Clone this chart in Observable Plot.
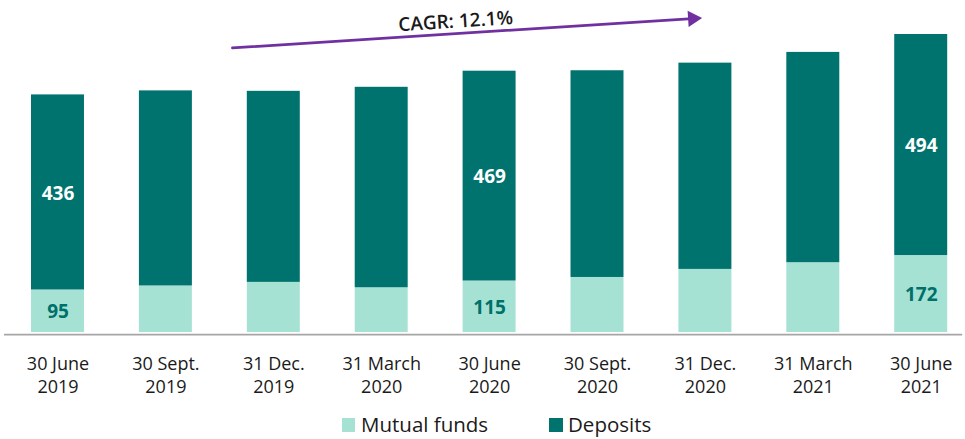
<!DOCTYPE html>
<html>
<head>
<meta charset="utf-8">
<script src="https://cdn.jsdelivr.net/npm/d3@7"></script>
<script src="https://cdn.jsdelivr.net/npm/@observablehq/plot@0.6"></script>
<style>
  html, body { margin: 0; padding: 0; background: #fff; overflow: hidden; }
  body { position: relative; width: 965px; height: 439px; font-family: "Open Sans", sans-serif; }
  #chart svg { display: block; }
  .legend { position: absolute; left: 0; top: 0; width: 965px; height: 439px; pointer-events: none; }
  .legend .sw { position: absolute; width: 13.5px; height: 13.5px; top: 418px; }
  .legend .lb { position: absolute; top: 414px; font-size: 20.5px; line-height: 21px; color: #1a1a1a; white-space: nowrap; }
</style>
</head>
<body>
<div id="chart"></div>
<div class="legend" id="legend"></div>
<script>
const categories = ["30 June\n2019", "30 Sept.\n2019", "31 Dec.\n2019", "31 March\n2020", "30 June\n2020", "30 Sept.\n2020", "31 Dec.\n2020", "31 March\n2021", "30 June\n2021"];
const mutualFunds = [95, 104, 112, 100, 115, 123, 141, 156, 172];
const deposits = [436, 436, 427, 448, 469, 462, 461, 470, 494];
const labelledPeriods = [0, 4, 8];
const seriesNames = ["Mutual funds", "Deposits"];
const seriesColors = ["#a6e2d4", "#00736f"];
const cagrLabel = "CAGR: 12.1%";
const cagrArrow = [{from: categories[1], to: categories[6], y1: 626, y2: 703}];
const cagrText = [{x: categories[4], y: 695, text: cagrLabel}];

const table = [];
categories.forEach((c, i) => {
  table.push({period: c, series: seriesNames[0], value: mutualFunds[i], show: labelledPeriods.includes(i)});
  table.push({period: c, series: seriesNames[1], value: deposits[i], show: labelledPeriods.includes(i)});
});

const chart = Plot.plot({
  width: 965,
  height: 410,
  marginTop: 0,
  marginBottom: 78,
  marginLeft: 31,
  marginRight: 17.8,
  style: {fontFamily: "Open Sans", fontSize: "18px", color: "#1a1a1a", background: "#fff", overflow: "visible"},
  x: {domain: categories, paddingInner: 0.509, paddingOuter: 0, round: false, axis: null, label: null},
  y: {domain: [0, 742], axis: null},
  color: {domain: seriesNames, range: seriesColors},
  marks: [
    Plot.barY(table, {x: "period", y: "value", z: "series", fill: "series"}),
    Plot.ruleY([0], {stroke: "#a6a6a6", strokeWidth: 1.75, dy: 2, insetLeft: -27, insetRight: -15}),
    Plot.text(table, Plot.stackY({x: "period", y: "value", z: "series",
      text: d => (d.show && d.series === seriesNames[1]) ? String(d.value) : null,
      fill: "#ffffff", fontWeight: 700, fontSize: 19, dy: 1})),
    Plot.text(table, Plot.stackY({x: "period", y: "value", z: "series",
      text: d => (d.show && d.series === seriesNames[0]) ? String(d.value) : null,
      fill: "#00706b", fontWeight: 700, fontSize: 19, dy: 1})),
    Plot.axisX({tickSize: 0, tickPadding: 21, fontSize: 18, lineHeight: 1.28, label: null, fill: "#1a1a1a"}),
    Plot.arrow(cagrArrow, {x1: "from", x2: "to", y1: "y1", y2: "y2", stroke: "#7030a0", strokeWidth: 2.75,
      headLength: 0, insetStart: 69.7, insetEnd: 10, dx: -3}),
    Plot.dot(cagrArrow, {x: "to", y: "y2", symbol: "triangle", r: 6, fill: "#7030a0", stroke: "none",
      rotate: 86.35, dx: -12.6, dy: 0.6}),
    Plot.text(cagrText, {x: "x", y: "y", text: "text", rotate: -3.65, dx: -34, fontSize: 19, fontWeight: 600, fill: "#1a1a1a"})
  ]
});
document.getElementById("chart").appendChild(chart);

const legend = document.getElementById("legend");
const legendPos = [{sw: 341.7, lb: 361}, {sw: 549, lb: 568}];
seriesNames.forEach((name, i) => {
  const sw = document.createElement("div");
  sw.className = "sw";
  sw.style.left = legendPos[i].sw + "px";
  sw.style.background = seriesColors[i];
  const lb = document.createElement("div");
  lb.className = "lb";
  lb.style.left = legendPos[i].lb + "px";
  lb.textContent = name;
  legend.appendChild(sw);
  legend.appendChild(lb);
});
</script>
</body>
</html>
